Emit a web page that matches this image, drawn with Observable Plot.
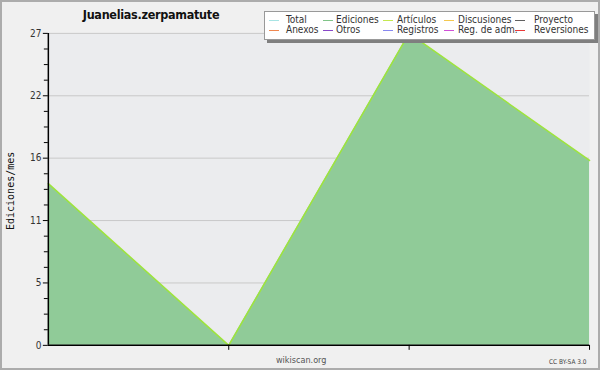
<!DOCTYPE html>
<html>
<head>
<meta charset="utf-8">
<script src="https://cdn.jsdelivr.net/npm/d3@7"></script>
<script src="https://cdn.jsdelivr.net/npm/@observablehq/plot@0.6"></script>
<style>
  html, body { margin: 0; padding: 0; background: #fff; }
  #wrap { position: relative; width: 600px; height: 370px; box-sizing: border-box;
          border: 2px solid #acacac; background: #f0f0f0; overflow: hidden;
          font-family: "DejaVu Sans Condensed", "DejaVu Sans", sans-serif; }
  #chart { position: absolute; left: -2px; top: -2px; }
  #title { position: absolute; left: 0; width: 298px; top: 5px; text-align: center;
           font: bold 12.5px "DejaVu Sans Condensed", "DejaVu Sans", sans-serif; letter-spacing: -0.3px; color: #111; }
  #legend { position: absolute; left: 262px; top: 9px; width: 329px; height: 27px;
            background: #fff; border: 1px solid #999; box-shadow: 3px 3px 0 #7f7f7f; }
  .li { position: absolute; font: 10px "DejaVu Sans Condensed", "DejaVu Sans", sans-serif; color: #333; line-height: 10px; white-space: nowrap; }
  .sw { position: absolute; height: 1px; width: 10px; }
  #ylabel { position: absolute; left: 3px; top: 228px; transform: rotate(-90deg);
            transform-origin: 0 0; font: 10px "DejaVu Sans Mono", monospace; color: #111; white-space: nowrap; }
  #foot { position: absolute; left: 274px; top: 353px; font: 9px "DejaVu Sans Condensed", "DejaVu Sans", sans-serif; color: #555; }
  #cc { position: absolute; left: 547px; top: 356px; font: 6.5px "DejaVu Sans Condensed", "DejaVu Sans", sans-serif; color: #444; }
</style>
</head>
<body>
<div id="wrap">
  <div id="chart"></div>
  <div id="title">Juanelias.zerpamatute</div>
  <div id="legend"></div>
  <div id="foot">wikiscan.org</div>
  <div id="cc">CC BY-SA 3.0</div>
</div>
<script>
// Data
const months = [0, 1, 2, 3];
const edits = [14, 0, 27, 16];
const yMajor = [0, 5.4, 10.8, 16.2, 21.6, 27];
const yMajorLabels = ["0", "5", "11", "16", "22", "27"];
const yMinor = [1.35, 2.7, 4.05, 6.75, 8.1, 9.45, 12.15, 13.5, 14.85, 17.55, 18.9, 20.25, 22.95, 24.3, 25.65];
const xTicks = [1, 2, 3];
const legendNames = ["Total", "Ediciones", "Artículos", "Discusiones", "Proyecto",
                     "Anexos", "Otros", "Registros", "Reg. de adm.", "Reversiones"];
const legendColors = ["#a8e4e4", "#80c488", "#c4e850", "#f4c850", "#606060",
                      "#f08850", "#8848c8", "#8888f0", "#d050d8", "#e83838"];

const data = months.map((m, i) => ({ m, v: edits[i] }));

const chart = Plot.plot({
  width: 600,
  height: 370,
  marginLeft: 48,
  marginRight: 9,
  marginTop: 33,
  marginBottom: 24,
  style: { background: "transparent", fontFamily: "DejaVu Sans Condensed, DejaVu Sans, sans-serif", fontSize: "10px", color: "#333" },
  x: { domain: [0, 3], axis: null },
  y: { domain: [0, 27], axis: null },
  marks: [
    Plot.frame({ fill: "#ebecee", stroke: null }),
    Plot.ruleY(yMajor, { stroke: "#c9c9c9", strokeWidth: 1 }),
    Plot.areaY(data, { x: "m", y: "v", fill: "#90cb98", curve: "linear" }),
    Plot.lineY(data, { x: "m", y: "v", stroke: "#9ee43c", strokeWidth: 1.5, curve: "linear" }),
    Plot.axisY(yMajor, { tickSize: 5, tickPadding: 2, stroke: "#000", label: null, tickFormat: (d, i) => yMajorLabels[i], fill: "#333", fontSize: 10 }),
    Plot.axisY(yMinor, { tickSize: 4, label: null, stroke: "#000", text: null }),
    Plot.axisX(xTicks, { tickSize: 5, label: null, stroke: "#000", text: null }),
    Plot.ruleX([0], { stroke: "#000", strokeWidth: 1.5 }),
    Plot.ruleY([0], { stroke: "#000", strokeWidth: 1.5 })
  ]
});
document.getElementById("chart").appendChild(chart);

// Legend
const leg = document.getElementById("legend");
const colSw = [4, 58, 118, 179, 250];
const colTx = [21, 71, 132, 193, 269];
const rowY = [3, 13];
legendNames.forEach((name, i) => {
  const r = Math.floor(i / 5), c = i % 5;
  const sw = document.createElement("div");
  sw.className = "sw";
  sw.style.left = colSw[c] + "px";
  sw.style.top = (rowY[r] + 5) + "px";
  sw.style.background = legendColors[i];
  leg.appendChild(sw);
  const t = document.createElement("div");
  t.className = "li";
  t.style.left = colTx[c] + "px";
  t.style.top = rowY[r] + "px";
  t.textContent = name;
  leg.appendChild(t);
});

// Y label
const yl = document.createElement("div");
yl.id = "ylabel";
yl.textContent = "Ediciones/mes";
document.getElementById("wrap").appendChild(yl);
</script>
</body>
</html>
